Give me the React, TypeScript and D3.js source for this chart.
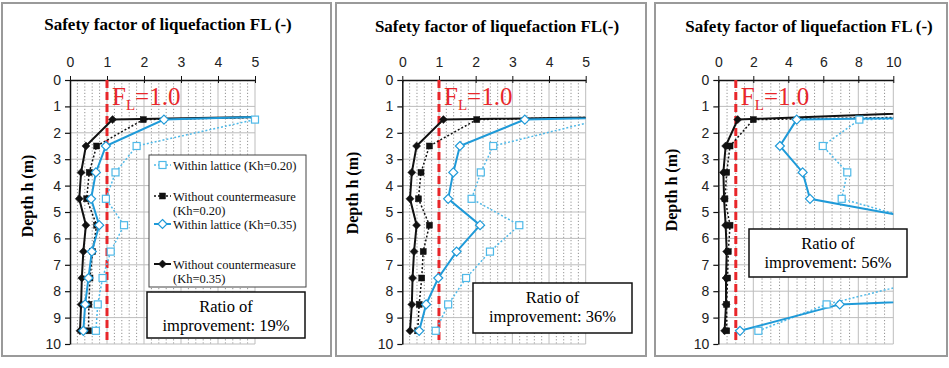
import React, { useEffect, useRef } from 'react'
import * as d3 from 'd3'

// depth of each layer mid-point (m)
const depths = [0.5, 1.5, 2.5, 3.5, 4.5, 5.5, 6.5, 7.5, 8.5, 9.5]

// panel 1
const p1WithinKh20 = [60, 5.0, 1.8, 1.23, 0.97, 1.46, 1.1, 0.88, 0.75, 0.7]
const p1WithoutKh20 = [39.5, 1.98, 0.72, 0.52, 0.45, 0.72, 0.61, 0.54, 0.51, 0.5]
const p1WithinKh35 = [27, 2.54, 0.97, 0.7, 0.57, 0.79, 0.59, 0.5, 0.41, 0.36]
const p1WithoutKh35 = [41.5, 1.15, 0.43, 0.3, 0.25, 0.43, 0.36, 0.32, 0.3, 0.27]

// panel 2
const p2WithinKh20 = [60, 5.4, 2.48, 2.14, 1.89, 3.19, 2.39, 1.74, 1.25, 0.91]
const p2WithoutKh20 = [39, 2.03, 0.74, 0.51, 0.44, 0.74, 0.57, 0.53, 0.46, 0.42]
const p2WithinKh35 = [36, 3.34, 1.57, 1.39, 1.25, 2.12, 1.48, 0.98, 0.65, 0.46]
const p2WithoutKh35 = [50, 1.12, 0.39, 0.26, 0.21, 0.39, 0.32, 0.28, 0.26, 0.21]

// panel 3
const p3WithinKh20 = [100, 8.06, 5.97, 7.37, 7.05, 12.4, 30, 12.3, 6.19, 2.29]
const p3WithoutKh20 = [102, 2.0, 0.67, 0.48, 0.38, 0.67, 0.57, 0.53, 0.48, 0.48]
const p3WithinKh35 = [115, 4.48, 3.52, 4.82, 5.24, 13.4, 40, 45, 6.94, 1.24]
const p3WithoutKh35 = [41.5, 1.11, 0.42, 0.29, 0.33, 0.42, 0.48, 0.44, 0.44, 0.36]

const legendLabels = [
  ['Within lattice (Kh=0.20)'],
  ['Without countermeasure', '(Kh=0.20)'],
  ['Within lattice (Kh=0.35)'],
  ['Without countermeasure', '(Kh=0.35)']
]

const titles = [
  'Safety factor of liquefaction FL (-)',
  'Safety factor of liquefaction FL(-)',
  'Safety factor of liquefaction FL (-)'
]
const ratios = ['19%', '36%', '56%']
const xMaxes = [5, 5, 10]
const yTicks = [0, 1, 2, 3, 4, 5, 6, 7, 8, 9, 10]

const BLUE = '#1f9ad8'
const LIGHT_BLUE = '#4fb9e8'

type Style = { color: string; dash: string | null; shape: 'square' | 'diamond'; filled: boolean; width: number }
const styles: Style[] = [
  { color: LIGHT_BLUE, dash: '2,2', shape: 'square', filled: false, width: 1.5 },
  { color: '#111', dash: '2,2', shape: 'square', filled: true, width: 1.5 },
  { color: BLUE, dash: null, shape: 'diamond', filled: false, width: 2 },
  { color: '#111', dash: null, shape: 'diamond', filled: true, width: 2 }
]

const panels = [
  { frame: [2, 331], px: [70, 255], titleX: 168, titleY: 30, labelX: 27, labelY: 196,
    series: [p1WithinKh20, p1WithoutKh20, p1WithinKh35, p1WithoutKh35], minor: 0.2, major: 1, box: [147, 292, 158, 46] },
  { frame: [336, 646], px: [402.3, 585.7], titleX: 497, titleY: 32, labelX: 352, labelY: 193,
    series: [p2WithinKh20, p2WithoutKh20, p2WithinKh35, p2WithoutKh35], minor: 0.2, major: 1, box: [473, 283, 159, 50] },
  { frame: [655, 947], px: [718.3, 893.3], titleX: 809, titleY: 32, labelX: 671, labelY: 190,
    series: [p3WithinKh20, p3WithoutKh20, p3WithinKh35, p3WithoutKh35], minor: 0.5, major: 2, box: [749, 229, 158, 48] }
]

const serif = '"Liberation Serif", "Times New Roman", serif'
const sans = '"Liberation Sans", Arial, sans-serif'

function marker(g: d3.Selection<SVGGElement, unknown, null, undefined>, x: number, y: number, s: Style) {
  if (s.shape === 'square') {
    const size = s.filled ? 6 : 7
    g.append('rect')
      .attr('x', x - size / 2).attr('y', y - size / 2)
      .attr('width', size).attr('height', size)
      .attr('fill', s.filled ? s.color : '#fff')
      .attr('stroke', s.color).attr('stroke-width', s.filled ? 0.5 : 1.2)
  } else {
    const r = s.filled ? 4 : 4.5
    g.append('path')
      .attr('d', `M${x},${y - r}L${x + r},${y}L${x},${y + r}L${x - r},${y}Z`)
      .attr('fill', s.filled ? s.color : '#fff')
      .attr('stroke', s.color).attr('stroke-width', s.filled ? 0.5 : 1.2)
  }
}

export default function App() {
  const ref = useRef<SVGSVGElement | null>(null)

  useEffect(() => {
    if (!ref.current) return
    const svg = d3.select(ref.current)
    svg.selectAll('*').remove()
    svg.append('rect').attr('width', 949).attr('height', 368).attr('fill', '#fff')

    panels.forEach((p, pi) => {
      const xMax = xMaxes[pi]
      const x = d3.scaleLinear().domain([0, xMax]).range(p.px)
      const y = d3.scaleLinear().domain([0, 10]).range([80, 344])
      const g = svg.append('g')

      // panel frame
      g.append('rect')
        .attr('x', p.frame[0]).attr('y', 3)
        .attr('width', p.frame[1] - p.frame[0]).attr('height', 353)
        .attr('fill', '#fff').attr('stroke', '#9a9a9a').attr('stroke-width', 2)

      g.append('text')
        .attr('x', p.titleX).attr('y', p.titleY)
        .attr('text-anchor', 'middle')
        .attr('font-family', serif).attr('font-weight', 'bold').attr('font-size', 17)
        .text(titles[pi])

      // grid
      const minorTicks = d3.range(0, xMax + 1e-9, p.minor).filter((v) => Math.abs(v / p.major - Math.round(v / p.major)) > 1e-6)
      const majorTicks = d3.range(0, xMax + 1e-9, p.major)
      g.selectAll('line.minor').data(minorTicks).enter().append('line')
        .attr('x1', (d) => x(d)).attr('x2', (d) => x(d))
        .attr('y1', y(0)).attr('y2', y(10))
        .attr('stroke', '#777').attr('stroke-width', 0.8).attr('stroke-dasharray', '1.2,2')
      g.selectAll('line.hgrid').data(yTicks.slice(1)).enter().append('line')
        .attr('x1', x(0)).attr('x2', x(xMax))
        .attr('y1', (d) => y(d)).attr('y2', (d) => y(d))
        .attr('stroke', '#bdbdbd').attr('stroke-width', 1)
      g.selectAll('line.major').data(majorTicks.slice(1)).enter().append('line')
        .attr('x1', (d) => x(d)).attr('x2', (d) => x(d))
        .attr('y1', y(0)).attr('y2', y(10))
        .attr('stroke', '#bdbdbd').attr('stroke-width', 1)

      // axes
      const top = g.append('g').attr('transform', `translate(0,${y(0)})`)
        .call(d3.axisTop(x).tickValues(majorTicks).tickSize(4).tickSizeOuter(0).tickFormat(d3.format('d')))
      top.select('.domain').attr('stroke', '#111').attr('stroke-width', 1.5)
      top.selectAll('.tick line').attr('stroke', '#111').attr('y2', -4).attr('y1', 3)
      top.selectAll('.tick text').attr('font-family', sans).attr('font-size', 14).attr('fill', '#222').attr('dy', '-6')

      const left = g.append('g').attr('transform', `translate(${x(0)},0)`)
        .call(d3.axisLeft(y).tickValues(yTicks).tickSize(5).tickSizeOuter(0).tickFormat(d3.format('d')))
      left.select('.domain').attr('stroke', '#111').attr('stroke-width', 1.5)
      left.selectAll('.tick line').attr('stroke', '#111').attr('stroke-width', 1.2)
      left.selectAll('.tick text').attr('font-family', sans).attr('font-size', 14).attr('fill', '#222').attr('x', -9)

      g.append('text')
        .attr('transform', `translate(${p.labelX},${p.labelY}) rotate(-90)`)
        .attr('text-anchor', 'middle').attr('dy', '0.35em')
        .attr('font-family', serif).attr('font-weight', 'bold').attr('font-size', 16)
        .text('Depth h (m)')

      // FL = 1.0 line
      g.append('line')
        .attr('x1', x(1)).attr('x2', x(1)).attr('y1', y(0)).attr('y2', y(10))
        .attr('stroke', '#e8262a').attr('stroke-width', 3).attr('stroke-dasharray', '8,4')
      const fl = g.append('text')
        .attr('x', x(1) + 5).attr('y', 105)
        .attr('font-family', serif).attr('font-size', 25).attr('fill', '#e8262a')
      fl.append('tspan').text('F')
      fl.append('tspan').attr('font-size', 15).attr('dy', 5).text('L')
      fl.append('tspan').attr('dy', -5).text('=1.0')

      // series
      const clipId = `clip-${pi}`
      svg.append('clipPath').attr('id', clipId).append('rect')
        .attr('x', x(0)).attr('y', y(0)).attr('width', x(xMax) - x(0)).attr('height', y(10) - y(0))
      const plot = g.append('g').attr('clip-path', `url(#${clipId})`)
      const line = d3.line<number>().x((d) => x(d)).y((_, i) => y(depths[i]))
      const order = [1, 0, 3, 2]
      order.forEach((si) => {
        const s = styles[si]
        plot.append('path')
          .attr('d', line(p.series[si]))
          .attr('fill', 'none').attr('stroke', s.color).attr('stroke-width', s.width)
          .attr('stroke-dasharray', s.dash)
      })
      const marks = g.append('g')
      order.forEach((si) => {
        p.series[si].forEach((v, i) => {
          if (v <= xMax + 1e-9) marker(marks, x(v), y(depths[i]), styles[si])
        })
      })

      // ratio box
      const [bx, by, bw, bh] = p.box
      g.append('rect').attr('x', bx).attr('y', by).attr('width', bw).attr('height', bh)
        .attr('fill', '#fff').attr('stroke', '#111').attr('stroke-width', 1.5)
      g.append('text').attr('x', bx + bw / 2).attr('y', by + 20)
        .attr('text-anchor', 'middle').attr('font-family', serif).attr('font-size', 16.5).text('Ratio of')
      g.append('text').attr('x', bx + bw / 2).attr('y', by + 39)
        .attr('text-anchor', 'middle').attr('font-family', serif).attr('font-size', 16.5)
        .text(`improvement: ${ratios[pi]}`)

      // legend (first panel only)
      if (pi === 0) {
        const lg = g.append('g')
        lg.append('rect').attr('x', 149).attr('y', 155).attr('width', 157).attr('height', 132)
          .attr('fill', '#fff').attr('stroke', '#444').attr('stroke-width', 1)
        const rowY = [165, 196, 224, 264]
        legendLabels.forEach((lines, li) => {
          const s = styles[li]
          lg.append('line').attr('x1', 154).attr('x2', 171).attr('y1', rowY[li]).attr('y2', rowY[li])
            .attr('stroke', s.color).attr('stroke-width', s.width).attr('stroke-dasharray', s.dash)
          marker(lg, 162.5, rowY[li], s)
          lines.forEach((t, ti) => {
            lg.append('text').attr('x', 173).attr('y', rowY[li] + 4.5 + ti * 14)
              .attr('font-family', serif).attr('font-size', 12.5).attr('fill', '#111').text(t)
          })
        })
      }
    })
  }, [])

  return (
    <svg
      ref={ref}
      width={949}
      height={368}
      style={{ position: 'absolute', left: 0, top: 0, display: 'block' }}
    />
  )
}
